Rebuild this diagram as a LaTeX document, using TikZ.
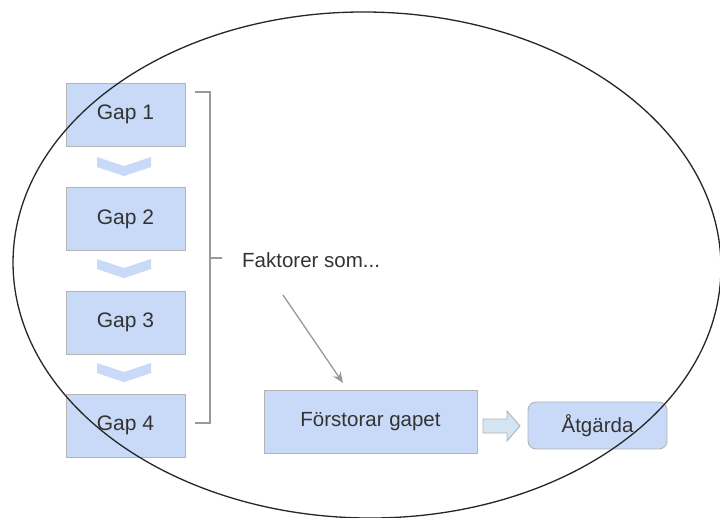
\documentclass[tikz,border=0pt]{standalone}
\usepackage{fontspec}
\setmainfont{Liberation Sans}
\usetikzlibrary{arrows.meta}
\definecolor{boxfill}{HTML}{C9DAF8}
\definecolor{boxline}{HTML}{B4B4B4}
\definecolor{txt}{HTML}{333333}
\definecolor{brk}{HTML}{999999}
\definecolor{blkfill}{HTML}{D3E5F3}
\begin{document}
\begin{tikzpicture}[x=1pt,y=-1pt,
  gapbox/.style={draw=boxline,fill=boxfill,line width=0.9pt,minimum width=119pt,minimum height=63pt,inner sep=0pt,text=txt,font=\fontsize{21}{25}\selectfont},
  chev/.style={fill=boxfill,draw=none},
  lbl/.style={text=txt,font=\fontsize{20.5}{24}\selectfont,inner sep=0pt}]
\useasboundingbox (0,0) rectangle (720,517);
\fill[white] (0,0) rectangle (720,517);
% gap boxes
\node[gapbox] (g1) at (125.5,114.5) {Gap 1};
\node[gapbox] (g2) at (125.5,219) {Gap 2};
\node[gapbox] (g3) at (125.5,322.5) {Gap 3};
\node[gapbox] (g4) at (125.5,425.5) {Gap 4};
% chevrons
\foreach \t/\n in {157/c1,259/c2,363/c3}{
  \fill[chev] (97,\t) -- (124,\t+9) -- (151,\t) -- (151,\t+10) -- (124,\t+19) -- (97,\t+10) -- cycle;
}
% bracket
\coordinate (bt) at (195,92);
\coordinate (bb) at (195,423);
\coordinate (bm) at (222,258);
\draw[brk,line width=1.6pt] (bt) -- (210,92) -- (210,423) -- (bb);
\draw[brk,line width=1.6pt] (210,258) -- (bm);
% texts
\node[lbl,anchor=west] (fak) at (242,260) {Faktorer som...};
\node[gapbox,lbl,minimum width=213pt,minimum height=63pt,font=\fontsize{20.5}{24}\selectfont] (for) at (370.5,421.5) {Förstorar gapet};
\node[gapbox,lbl,minimum width=139pt,minimum height=47pt,rounded corners=8pt,font=\fontsize{20.5}{24}\selectfont] (atg) at (597.5,425.5) {Åtgärda};
% arrow
\coordinate (a1) at (283,295);
\coordinate (a2) at (343,383);
\draw[brk,line width=1.3pt,-{Stealth[length=11pt,width=9pt]}] (a1) -- (a2);
% block arrow
\draw[boxline,fill=blkfill,line width=0.9pt] (483,419) -- (507,419) -- (507,411) -- (520,426) -- (507,441) -- (507,433) -- (483,433) -- cycle;
% ellipse
\draw[black!85,line width=1.3pt,rotate around={-0.8:(367,265)}] (367,265) ellipse [x radius=354, y radius=253];
\end{tikzpicture}
\end{document}
